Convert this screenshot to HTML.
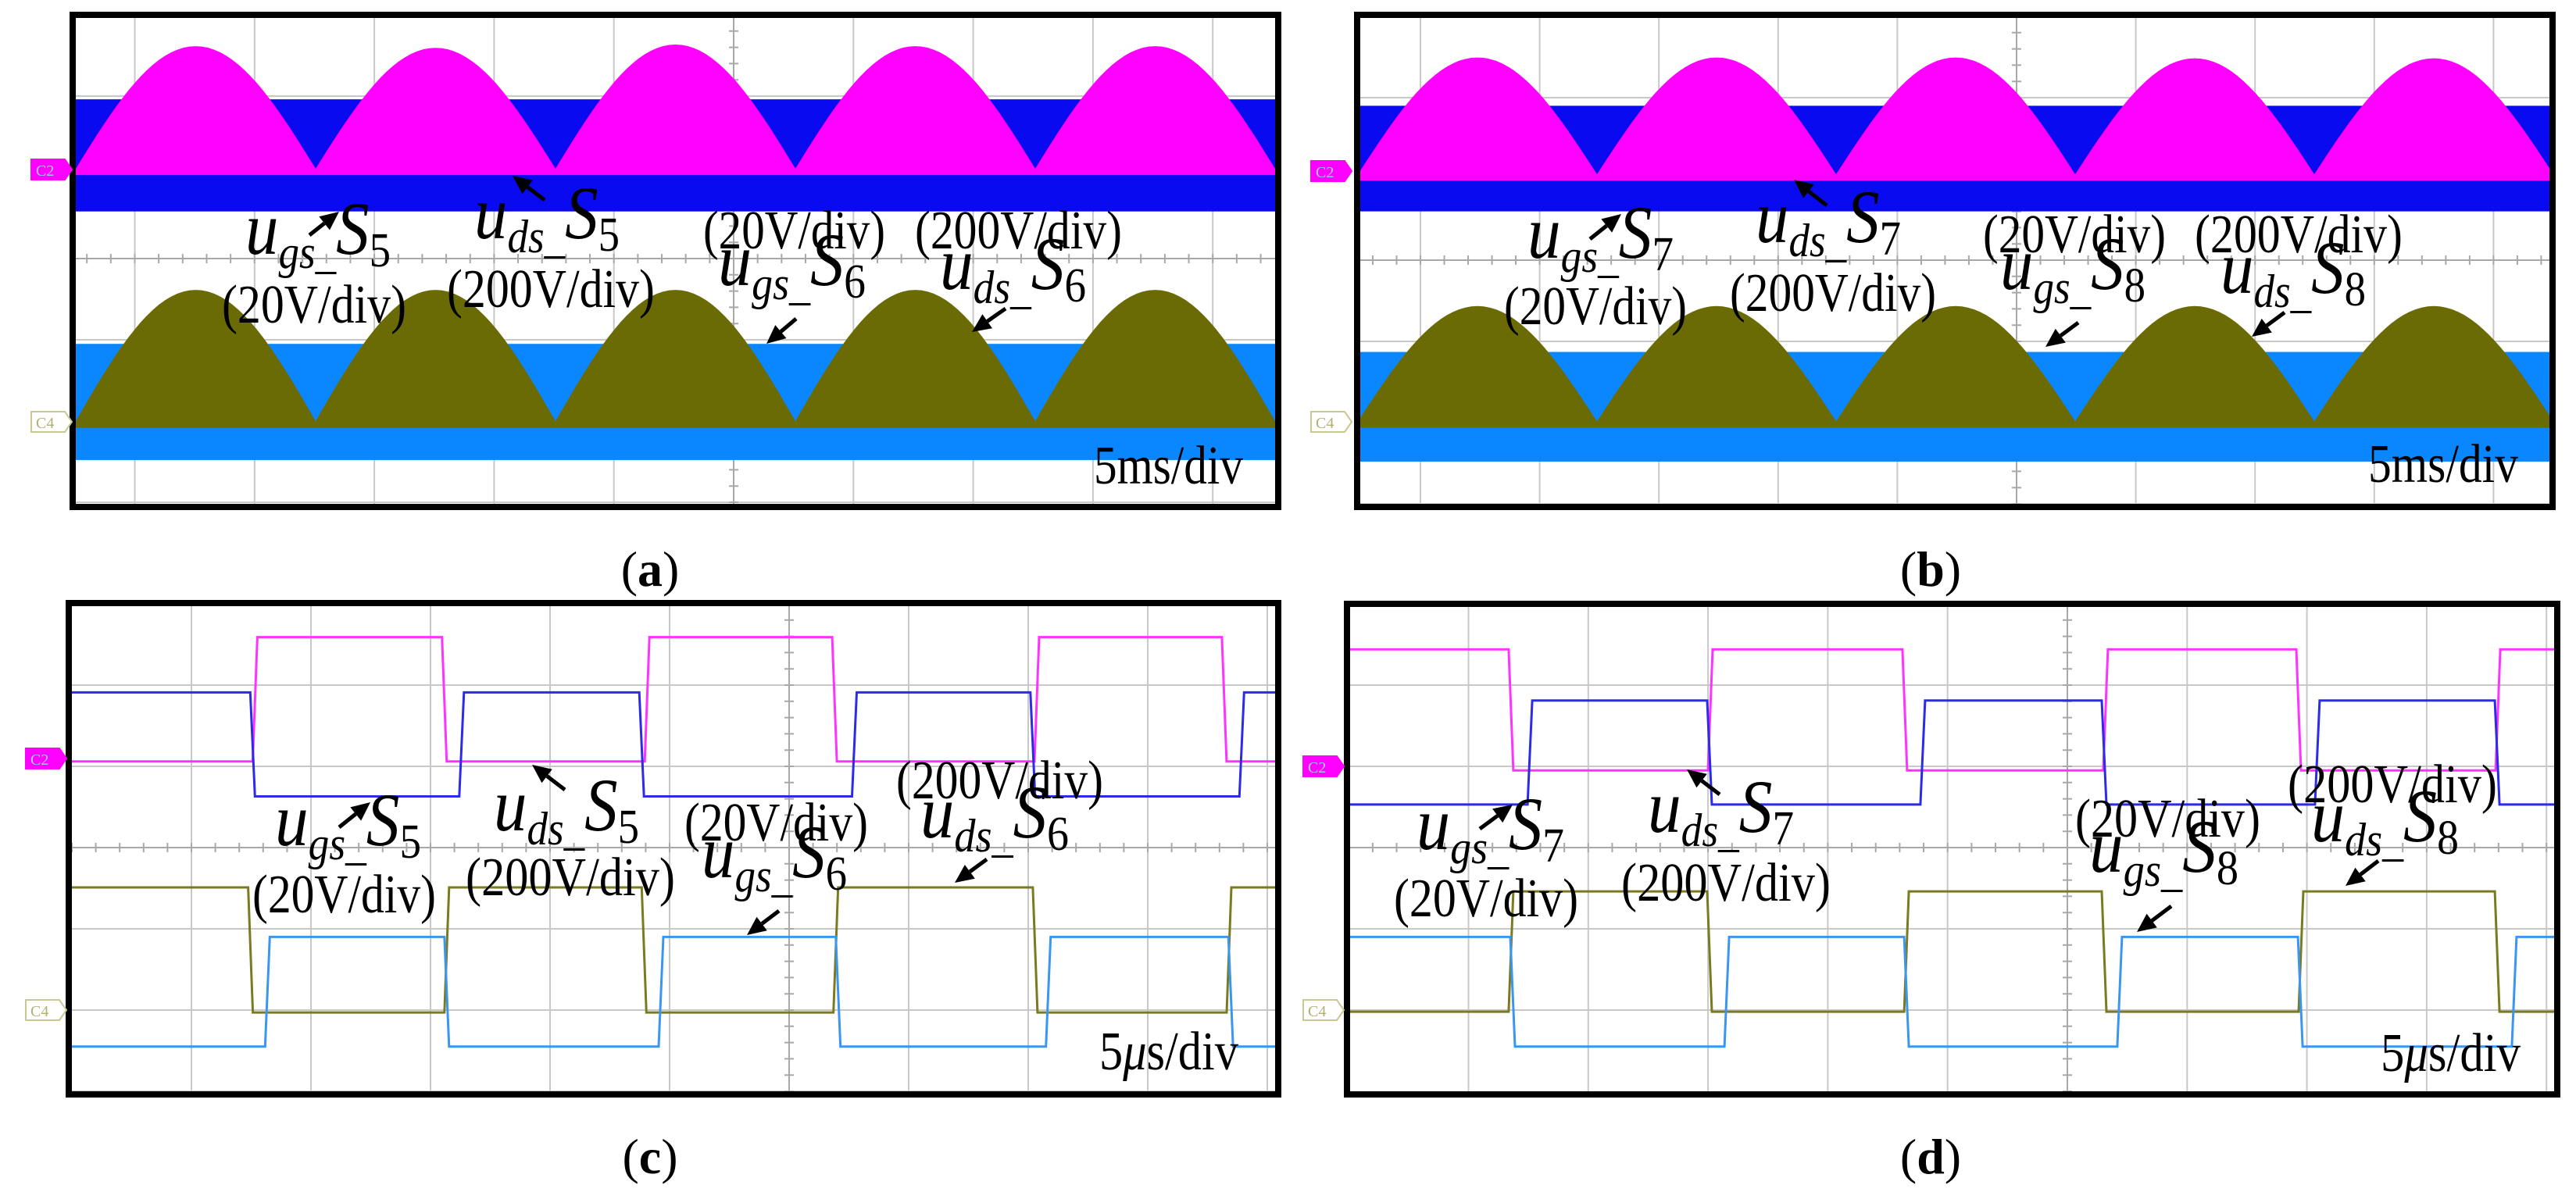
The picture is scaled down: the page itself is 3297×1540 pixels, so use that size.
<!DOCTYPE html>
<html><head><meta charset="utf-8"><title>Oscilloscope waveforms</title>
<style>
html,body{margin:0;padding:0;background:#fff;}
svg{display:block;}
text{font-family:"Liberation Serif","Times New Roman",serif;fill:#000;}
</style></head>
<body>
<svg id="fig" width="3297" height="1540" viewBox="0 0 3297 1540" xmlns="http://www.w3.org/2000/svg">
<defs>
<clipPath id="clipA"><rect x="97" y="23" width="1535" height="623"/></clipPath>
<clipPath id="clipB"><rect x="1741" y="23" width="1523" height="623"/></clipPath>
<clipPath id="clipC"><rect x="92" y="776" width="1540" height="622"/></clipPath>
<clipPath id="clipD"><rect x="1728" y="777" width="1541" height="620"/></clipPath>
</defs>
<rect width="3297" height="1540" fill="#fff"/>
<g id="gA" clip-path="url(#clipA)"></g>
<g id="gB" clip-path="url(#clipB)"></g>
<g id="gC" clip-path="url(#clipC)"></g>
<g id="gD" clip-path="url(#clipD)"></g>
<g id="overlay"></g>
</svg>
<script>
// ---------- data ----------
const humpValleysMs = [0, 10, 20, 30, 40, 50];
const aGsPeaks = [2.6, 2.58, 2.62, 2.6, 2.6];
const aGsBase = 1.08;
const aGsBand = [1.96, 0.58];
const aDsPeaks = [-0.4, -0.4, -0.4, -0.4, -0.4];
const aDsBase = -2.03;
const aDsBand = [-1.05, -2.48];
const bGsPeaks = [2.48, 2.48, 2.48, 2.47, 2.47];
const bGsBase = 1.03;
const bGsBand = [1.9, 0.6];
const bDsPeaks = [-0.58, -0.58, -0.58, -0.58, -0.58];
const bDsBase = -2.01;
const bDsBand = [-1.13, -2.48];
const cMagEdges = [7.66, 15.58, 24.06, 31.9, 40.36, 48.2];
const cMagLevels = [1.06, 2.59];
const cMagStartHigh = false;
const cBlueEdges = [7.56, 16.3, 23.83, 32.73, 40.19, 48.93];
const cBlueLevels = [0.63, 1.91];
const cBlueStartHigh = true;
const cOliveEdges = [7.47, 15.68, 23.93, 31.95, 40.29, 48.4];
const cOliveLevels = [-2.03, -0.49];
const cOliveStartHigh = true;
const cLbEdges = [8.18, 15.68, 24.64, 32.05, 40.84, 48.47];
const cLbLevels = [-2.45, -1.1];
const cLbStartHigh = false;
const dMagEdges = [6.78, 15.1, 23.22, 31.6, 39.66, 47.98];
const dMagLevels = [0.95, 2.44];
const dMagStartHigh = true;
const dBlueEdges = [7.57, 15.07, 23.97, 31.54, 40.44, 47.95];
const dBlueLevels = [0.53, 1.81];
const dBlueStartHigh = false;
const dOliveEdges = [6.78, 15.07, 23.29, 31.54, 39.76, 47.95];
const dOliveLevels = [-2.02, -0.54];
const dOliveStartHigh = false;
const dLbEdges = [6.85, 15.79, 23.29, 32.19, 39.73, 48.66];
const dLbLevels = [-2.45, -1.1];
const dLbStartHigh = true;

const NS = 'http://www.w3.org/2000/svg';
function mk(tag, attrs, parent) {
  const e = document.createElementNS(NS, tag);
  for (const k in attrs) e.setAttribute(k, attrs[k]);
  parent.appendChild(e);
  return e;
}
const P = {
  a: {g: 'gA', left: 97, right: 1632, top: 23, bottom: 646, x0: 97, pxu: 30.7, yc: 331, xc: 939, gx: 153.3},
  b: {g: 'gB', left: 1741, right: 3264, top: 23, bottom: 646, x0: 1738, pxu: 30.6, yc: 333, xc: 2581, gx: 152.6},
  c: {g: 'gC', left: 92, right: 1632, top: 776, bottom: 1398, x0: 92, pxu: 30.6, yc: 1085, xc: 1010, gx: 153},
  d: {g: 'gD', left: 1728, right: 3269, top: 777, bottom: 1397, x0: 1726, pxu: 30.66, yc: 1085, xc: 2646, gx: 153.3}
};
function xs(p, t) { return p.x0 + t * p.pxu; }
function ys(p, v) { return p.yc - v * 104; }

function grid(key) {
  const p = P[key], g = document.getElementById(p.g);
  for (let k = -6; k <= 6; k++) {
    const x = p.xc + k * p.gx;
    if (x <= p.left || x >= p.right) continue;
    const l = mk('line', {x1: x, y1: p.top, x2: x, y2: p.bottom, stroke: k === 0 ? '#a8a8a8' : '#c8c8c8', 'stroke-width': 2}, g);
    
    
  }
  for (let k = -4; k <= 4; k++) {
    const y = p.yc + k * 104;
    if (y <= p.top || y >= p.bottom) continue;
    const l = mk('line', {x1: p.left, y1: y, x2: p.right, y2: y, stroke: k === 0 ? '#a8a8a8' : '#c8c8c8', 'stroke-width': 2}, g);
    
    
  }
  let d = '';
  for (let x = p.xc - 6 * p.gx; x <= p.right; x += p.gx / 5) d += `M${x},${p.yc - 6}V${p.yc + 6}`;
  for (let y = p.yc - 6 * 104; y <= p.bottom; y += 104 / 5) d += `M${p.xc - 6},${y}H${p.xc + 6}`;
  const t = mk('path', {d: d, stroke: '#a8a8a8', 'stroke-width': 2, fill: 'none'}, g);
  
  
}

function humps(key, peaks, base, band, bandColor, humpColor, name) {
  const p = P[key], g = document.getElementById(p.g);
  const r = mk('rect', {x: p.left, y: ys(p, band[0]), width: p.right - p.left, height: ys(p, band[1]) - ys(p, band[0]), fill: bandColor}, g);
  
  
  let d = `M${p.left},${ys(p, base) + 4}`;
  for (let i = 0; i < peaks.length; i++) {
    const t0 = humpValleysMs[i], t1 = humpValleysMs[i + 1];
    for (let s = 0; s <= 40; s++) {
      const t = t0 + (t1 - t0) * s / 40;
      const v = base + (peaks[i] - base) * Math.sin(Math.PI * s / 40);
      d += `L${xs(p, t).toFixed(1)},${ys(p, v).toFixed(1)}`;
    }
  }
  d += `L${p.right},${ys(p, base) + 4}Z`;
  const h = mk('path', {d: d, fill: humpColor, stroke: humpColor, 'stroke-width': 3}, g);
  
  
}

function square(key, edges, levels, startHigh, color, name) {
  const p = P[key], g = document.getElementById(p.g);
  let hi = startHigh;
  let d = `M${p.left - 5},${ys(p, hi ? levels[1] : levels[0])}`;
  for (const e of edges) {
    const x = xs(p, e);
    d += `L${(x - 3).toFixed(1)},${ys(p, hi ? levels[1] : levels[0])}`;
    hi = !hi;
    d += `L${(x + 3).toFixed(1)},${ys(p, hi ? levels[1] : levels[0])}`;
  }
  d += `L${p.right + 5},${ys(p, hi ? levels[1] : levels[0])}`;
  const l = mk('path', {d: d, fill: 'none', stroke: color, 'stroke-width': 3}, g);
  
  
}

['a', 'b', 'c', 'd'].forEach(grid);
humps('a', aGsPeaks, aGsBase, aGsBand, '#0a0af0', '#ff00ff', 'a-s5');
humps('a', aDsPeaks, aDsBase, aDsBand, '#0a86ff', '#6b6b06', 'a-s6');
humps('b', bGsPeaks, bGsBase, bGsBand, '#0a0af0', '#ff00ff', 'b-s7');
humps('b', bDsPeaks, bDsBase, bDsBand, '#0a86ff', '#6b6b06', 'b-s8');
square('c', cMagEdges, cMagLevels, cMagStartHigh, '#ff33ff', 'c-uds-s5-trace');
square('c', cBlueEdges, cBlueLevels, cBlueStartHigh, '#2b2be8', 'c-ugs-s5-trace');
square('c', cOliveEdges, cOliveLevels, cOliveStartHigh, '#7a7a20', 'c-uds-s6-trace');
square('c', cLbEdges, cLbLevels, cLbStartHigh, '#3a96f0', 'c-ugs-s6-trace');
square('d', dMagEdges, dMagLevels, dMagStartHigh, '#ff33ff', 'd-uds-s7-trace');
square('d', dBlueEdges, dBlueLevels, dBlueStartHigh, '#2b2be8', 'd-ugs-s7-trace');
square('d', dOliveEdges, dOliveLevels, dOliveStartHigh, '#7a7a20', 'd-uds-s8-trace');
square('d', dLbEdges, dLbLevels, dLbStartHigh, '#3a96f0', 'd-ugs-s8-trace');

const ov = document.getElementById('overlay');
[[93, 19, 1543, 630, 'a'], [1737, 19, 1530, 630, 'b'], [88, 772, 1548, 629, 'c'], [1724, 773, 1549, 628, 'd']].forEach(f => {
  const r = mk('rect', {x: f[0], y: f[1], width: f[2], height: f[3], fill: 'none', stroke: '#000', 'stroke-width': 8}, ov);
  
  
});
function marker(x, y, isC2, label) {
  const w = 52, h = 26;
  const m = mk('path', {d: `M${x},${y}H${x + w - 9}L${x + w},${y + h / 2}L${x + w - 9},${y + h}H${x}Z`,
    fill: isC2 ? '#ff00ff' : '#ffffff', stroke: isC2 ? '#ff00ff' : '#c8c890', 'stroke-width': 2}, ov);
  
  
  const t = mk('text', {x: x + 6, y: y + 21, 'font-size': 20, style: 'fill:' + (isC2 ? '#a0c8ff' : '#b0b070')}, ov);
  t.textContent = isC2 ? 'C2' : 'C4';
  
  
}
marker(40, 204, true, 'a-c2'); marker(40, 527, false, 'a-c4');
marker(1678, 206, true, 'b-c2'); marker(1678, 527, false, 'b-c4');
marker(33, 958, true, 'c-c2'); marker(33, 1280, false, 'c-c4');
marker(1668, 968, true, 'd-c2'); marker(1668, 1280, false, 'd-c4');

function sym(x, y, w, sub, num, name) {
  const t = mk('text', {x: x, y: y, textLength: w, lengthAdjust: 'spacingAndGlyphs'}, ov);
  t.innerHTML = `<tspan font-style="italic" font-size="96">u</tspan><tspan font-style="italic" font-size="60" dy="18">${sub}</tspan><tspan font-size="60">_</tspan><tspan font-style="italic" font-size="96" dy="-18">S</tspan><tspan font-size="62" dy="16">${num}</tspan>`;
  
  
}
function txt(x, y, w, s, size, name) {
  const t = mk('text', {x: x, y: y, 'font-size': size, textLength: w, lengthAdjust: 'spacingAndGlyphs'}, ov);
  t.innerHTML = s;
  
  
}
function arrow(x1, y1, x2, y2, name) {
  const a = Math.atan2(y2 - y1, x2 - x1), L = 24, W = 11;
  const bx = x2 - L * Math.cos(a), by = y2 - L * Math.sin(a);
  const g = mk('g', {}, ov);
  
  
  mk('line', {x1: x1, y1: y1, x2: bx, y2: by, stroke: '#000', 'stroke-width': 5}, g);
  mk('path', {d: `M${x2},${y2}L${bx - W * Math.sin(a)},${by + W * Math.cos(a)}L${bx + W * Math.sin(a)},${by - W * Math.cos(a)}Z`, fill: '#000'}, g);
}
const FS = 70;
const MU = '5<tspan font-style="italic">\u03bc</tspan>s/div';
// panel a
sym(314, 325, 186, 'gs', '5', 'a-ugs-s5-label'); txt(284, 413, 236, '(20V/div)', FS, 'a-ugs-s5-scale');
sym(607, 305, 186, 'ds', '5', 'a-uds-s5-label'); txt(572, 393, 266, '(200V/div)', FS, 'a-uds-s5-scale');
txt(900, 318, 233, '(20V/div)', FS, 'a-ugs-s6-scale'); sym(919, 365, 189, 'gs', '6', 'a-ugs-s6-label');
txt(1171, 318, 265, '(200V/div)', FS, 'a-uds-s6-scale'); sym(1203, 370, 187, 'ds', '6', 'a-uds-s6-label');
txt(1400, 619, 191, '5ms/div', FS, 'a-timebase');
arrow(396, 301, 434, 271, 'a-arrow-ugs-s5'); arrow(697, 256, 656, 225, 'a-arrow-uds-s5');
arrow(1019, 408, 981, 440, 'a-arrow-ugs-s6'); arrow(1287, 395, 1244, 425, 'a-arrow-uds-s6');
// panel b
sym(1955, 330, 187, 'gs', '7', 'b-ugs-s7-label'); txt(1925, 415, 234, '(20V/div)', FS, 'b-ugs-s7-scale');
sym(2247, 310, 186, 'ds', '7', 'b-uds-s7-label'); txt(2214, 398, 264, '(200V/div)', FS, 'b-uds-s7-scale');
txt(2538, 323, 234, '(20V/div)', FS, 'b-ugs-s8-scale'); sym(2560, 370, 186, 'gs', '8', 'b-ugs-s8-label');
txt(2809, 323, 266, '(200V/div)', FS, 'b-uds-s8-scale'); sym(2842, 375, 186, 'ds', '8', 'b-uds-s8-label');
txt(3031, 617, 192, '5ms/div', FS, 'b-timebase');
arrow(2035, 306, 2075, 274, 'b-arrow-ugs-s7'); arrow(2338, 263, 2296, 230, 'b-arrow-uds-s7');
arrow(2660, 413, 2618, 444, 'b-arrow-ugs-s8'); arrow(2924, 400, 2882, 431, 'b-arrow-uds-s8');
// panel c
sym(352, 1082, 187, 'gs', '5', 'c-ugs-s5-label'); txt(323, 1168, 235, '(20V/div)', FS, 'c-ugs-s5-scale');
sym(632, 1063, 186, 'ds', '5', 'c-uds-s5-label'); txt(596, 1146, 268, '(200V/div)', FS, 'c-uds-s5-scale');
txt(876, 1076, 235, '(20V/div)', FS, 'c-ugs-s6-scale'); sym(898, 1123, 186, 'gs', '6', 'c-ugs-s6-label');
txt(1147, 1022, 265, '(200V/div)', FS, 'c-uds-s6-scale'); sym(1178, 1072, 190, 'ds', '6', 'c-uds-s6-label');
txt(1407, 1369, 178, MU, FS, 'c-timebase');
arrow(434, 1059, 474, 1027, 'c-arrow-ugs-s5'); arrow(723, 1011, 681, 979, 'c-arrow-uds-s5');
arrow(997, 1166, 956, 1197, 'c-arrow-ugs-s6'); arrow(1263, 1100, 1222, 1130, 'c-arrow-uds-s6');
// panel d
sym(1813, 1087, 189, 'gs', '7', 'd-ugs-s7-label'); txt(1784, 1173, 236, '(20V/div)', FS, 'd-ugs-s7-scale');
sym(2109, 1065, 187, 'ds', '7', 'd-uds-s7-label'); txt(2075, 1153, 268, '(200V/div)', FS, 'd-uds-s7-scale');
txt(2656, 1071, 237, '(20V/div)', FS, 'd-ugs-s8-scale'); sym(2674, 1116, 191, 'gs', '8', 'd-ugs-s8-label');
txt(2928, 1027, 268, '(200V/div)', FS, 'd-uds-s8-scale'); sym(2958, 1077, 189, 'ds', '8', 'd-uds-s8-label');
txt(3047, 1371, 179, MU, FS, 'd-timebase');
arrow(1894, 1061, 1936, 1030, 'd-arrow-ugs-s7'); arrow(2201, 1017, 2159, 985, 'd-arrow-uds-s7');
arrow(2779, 1160, 2735, 1193, 'd-arrow-ugs-s8'); arrow(3044, 1102, 3002, 1134, 'd-arrow-uds-s8');
function cap(x, y, l, name) {
  const t = mk('text', {x: x, y: y, 'font-size': 64, 'text-anchor': 'middle'}, ov);
  t.innerHTML = `(<tspan font-weight="bold">${l}</tspan>)`;
  
  
}
cap(832, 750, 'a', 'caption-a'); cap(2471, 750, 'b', 'caption-b');
cap(832, 1502, 'c', 'caption-c'); cap(2471, 1502, 'd', 'caption-d');
</script>
</body></html>
